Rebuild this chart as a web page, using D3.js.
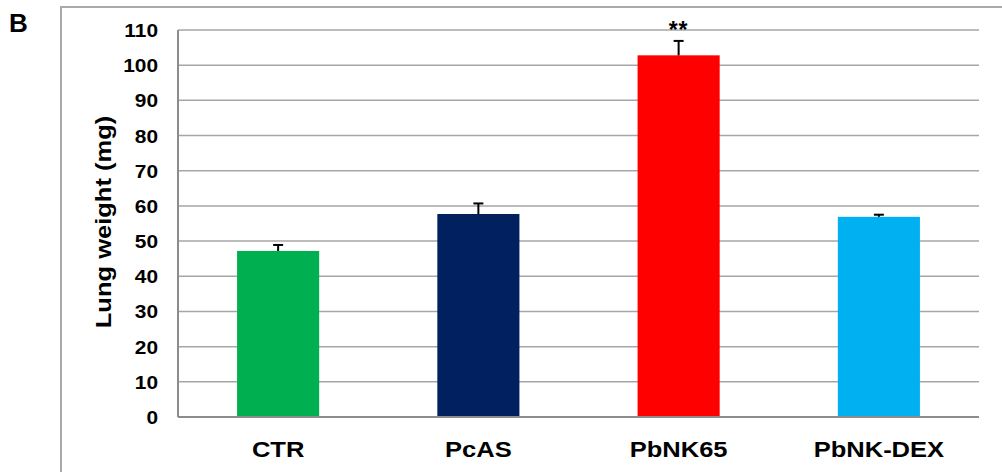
<!DOCTYPE html>
<html>
<head>
<meta charset="utf-8">
<script src="https://cdn.jsdelivr.net/npm/d3@7"></script>
<style>
  html, body { margin: 0; padding: 0; background: #fff; }
  svg { display: block; font-family: "Liberation Sans", Arial, sans-serif; }
</style>
</head>
<body>
<svg id="chart" width="1002" height="472"></svg>
<script>
// Lung weight per group, mean and error
const groups = ["CTR", "PcAS", "PbNK65", "PbNK-DEX"];
const means = [47.2, 57.7, 102.8, 56.9];
const errors = [1.7, 3.0, 4.1, 0.6];
const barColors = ["#00b050", "#002060", "#ff0000", "#00b0f0"];
const significance = ["", "", "**", ""];
const yTicks = [0, 10, 20, 30, 40, 50, 60, 70, 80, 90, 100, 110];

const svg = d3.select("#chart");
const plot = { left: 178, right: 979, top: 30, bottom: 417 };

// the labels use a slightly wide set: stretch each text along its baseline
function widen(sel, factor) {
  sel.each(function () {
    const len = this.getComputedTextLength();
    if (len > 0) {
      d3.select(this)
        .attr("textLength", len * factor)
        .attr("lengthAdjust", "spacingAndGlyphs");
    }
  });
}

const x = d3.scaleBand()
  .domain(groups)
  .range([plot.left, plot.right])
  .paddingInner(0.59)
  .paddingOuter(0.295);

const y = d3.scaleLinear().domain([0, 110]).range([plot.bottom, plot.top]);

// panel frame
svg.append("path")
  .attr("d", "M61,472 V7 H1002")
  .attr("fill", "none")
  .attr("stroke", "#a9a9a9")
  .attr("stroke-width", 2);

// panel letter
svg.append("text")
  .attr("x", 9).attr("y", 32)
  .attr("font-size", 26).attr("font-weight", "bold")
  .text("B");

// horizontal gridlines
svg.append("g")
  .selectAll("line")
  .data(yTicks.filter(d => d > 0))
  .join("line")
  .attr("x1", plot.left).attr("x2", plot.right)
  .attr("y1", d => y(d)).attr("y2", d => y(d))
  .attr("stroke", "#a6a6a6")
  .attr("stroke-width", 1.5);

// y axis labels
const yAxis = d3.axisLeft(y).tickValues(yTicks).tickSize(0).tickPadding(20);
const gy = svg.append("g").attr("transform", `translate(${plot.left},0)`).call(yAxis);
gy.select(".domain").remove();
gy.selectAll("text")
  .attr("font-size", 18).attr("font-weight", "bold")
  .attr("font-family", "Liberation Sans, Arial, sans-serif")
  .attr("fill", "#000")
  .attr("dy", "0.36em")
  .call(widen, 1.16);

// axis lines
svg.append("line")
  .attr("x1", plot.left).attr("x2", plot.left)
  .attr("y1", plot.top).attr("y2", plot.bottom)
  .attr("stroke", "#8c8c8c").attr("stroke-width", 2);

// bars
svg.append("g")
  .selectAll("rect")
  .data(groups)
  .join("rect")
  .attr("x", d => x(d))
  .attr("width", x.bandwidth())
  .attr("y", (d, i) => y(means[i]))
  .attr("height", (d, i) => y(0) - y(means[i]))
  .attr("fill", (d, i) => barColors[i]);

svg.append("line")
  .attr("x1", plot.left).attr("x2", plot.right)
  .attr("y1", plot.bottom).attr("y2", plot.bottom)
  .attr("stroke", "#8c8c8c").attr("stroke-width", 2);

// error bars (upper half)
const eb = svg.append("g").attr("stroke", "#000").attr("stroke-width", 2);
groups.forEach((g, i) => {
  const cx = x(g) + x.bandwidth() / 2;
  eb.append("line")
    .attr("x1", cx).attr("x2", cx)
    .attr("y1", y(means[i])).attr("y2", y(means[i] + errors[i]));
  eb.append("line")
    .attr("x1", cx - 5).attr("x2", cx + 5)
    .attr("y1", y(means[i] + errors[i])).attr("y2", y(means[i] + errors[i]));
});

// significance marks
svg.append("g")
  .selectAll("text")
  .data(groups)
  .join("text")
  .attr("x", d => x(d) + x.bandwidth() / 2)
  .attr("y", (d, i) => y(means[i] + errors[i]) - 3)
  .attr("text-anchor", "middle")
  .attr("font-size", 23).attr("font-weight", "bold")
  .attr("letter-spacing", 1)
  .text((d, i) => significance[i]);

// category labels
const xAxis = d3.axisBottom(x).tickSize(0).tickPadding(24);
const gx = svg.append("g").attr("transform", `translate(0,${plot.bottom})`).call(xAxis);
gx.select(".domain").remove();
gx.selectAll("text")
  .attr("font-size", 22).attr("font-weight", "bold")
  .attr("font-family", "Liberation Sans, Arial, sans-serif")
  .attr("fill", "#000")
  .call(widen, 1.16);

// y axis title
svg.append("text")
  .attr("transform", "translate(111,222) rotate(-90)")
  .attr("text-anchor", "middle")
  .attr("font-size", 22).attr("font-weight", "bold")
  .text("Lung weight (mg)")
  .call(widen, 1.16);
</script>
</body>
</html>
